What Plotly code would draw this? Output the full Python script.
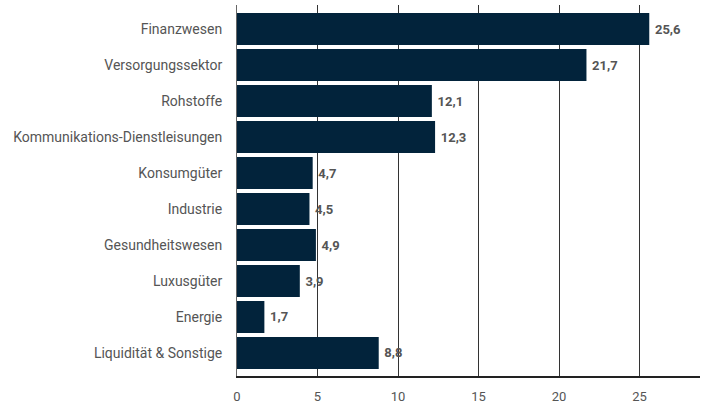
import plotly.graph_objects as go

categories = ["Finanzwesen", "Versorgungssektor", "Rohstoffe", "Kommunikations-Dienstleisungen",
              "Konsumgüter", "Industrie", "Gesundheitswesen", "Luxusgüter", "Energie",
              "Liquidität & Sonstige"]
values = [25.6, 21.7, 12.1, 12.3, 4.7, 4.5, 4.9, 3.9, 1.7, 8.8]
tick_vals = [0, 5, 10, 15, 20, 25]

labels = ["\u2009" + f"{v:.1f}".replace(".", ",") for v in values]

fig = go.Figure(go.Bar(
    x=values, y=categories, orientation="h",
    marker=dict(color="#02233b", line=dict(width=0)),
    text=labels, textposition="outside", cliponaxis=False,
    textfont=dict(family="Roboto", size=13, color="#555555", weight="bold"),
))

fig.update_layout(
    width=711, height=410,
    margin=dict(l=237, r=11, t=5, b=34),
    plot_bgcolor="white", paper_bgcolor="white",
    bargap=0.11, showlegend=False,
    font=dict(family="Roboto", color="#555555"),
)
fig.update_xaxes(
    range=[0, 28.75], tickvals=tick_vals, ticktext=[str(t) for t in tick_vals],
    showgrid=True, gridcolor="#333333", gridwidth=1,
    showline=True, linecolor="#222222", linewidth=1.5,
    zeroline=False, ticks="", tickfont=dict(size=13, color="#555555"),
    ticklabelstandoff=8,
)
fig.update_yaxes(
    range=[len(categories) - 0.36, -0.67], showgrid=False, showline=True,
    linecolor="#666666", linewidth=1,
    ticks="", tickfont=dict(size=14, color="#555555"), ticklabelstandoff=11,
)

fig.write_html("out.html", config={"displayModeBar": False},
               post_script="document.body.style.margin='0';document.body.style.padding='0';")
